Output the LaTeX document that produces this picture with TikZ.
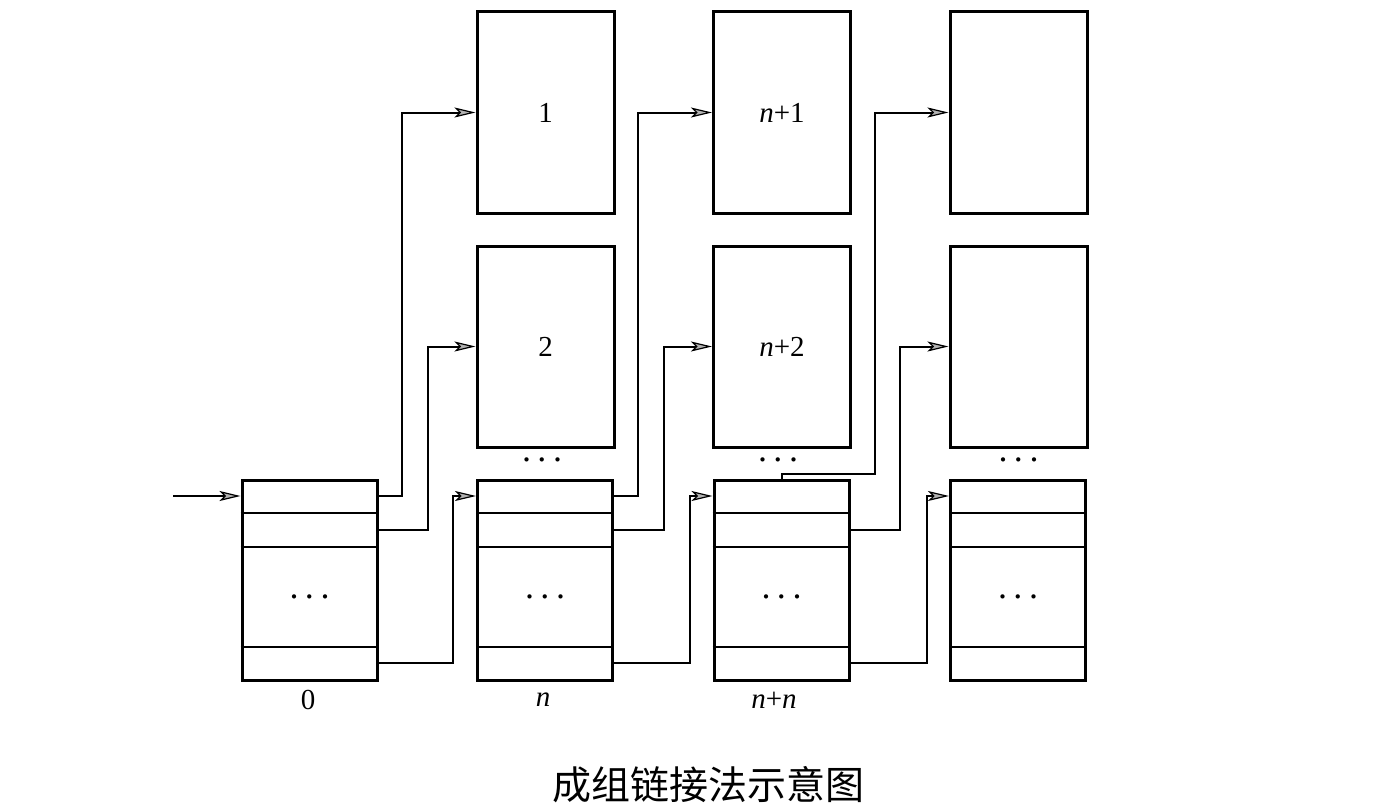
\documentclass[tikz,border=0pt]{standalone}
\usepackage{fontspec}
\setmainfont{Liberation Serif}
\newfontfamily\cjk{Noto Sans CJK SC}
\usetikzlibrary{arrows.meta,calc}
\newcommand\threedots{.\hspace{6.5pt}.\hspace{6.5pt}.}
\begin{document}
\begin{tikzpicture}[x=1pt,y=-1pt,
  box/.style={draw,line width=3pt,minimum width=137pt,minimum height=201pt,inner sep=0pt,font=\fontsize{29}{32}\selectfont},
  grp/.style={draw,line width=3pt,minimum width=135pt,minimum height=200pt,inner sep=0pt},
  rowline/.style={line width=2.4pt},
  link/.style={line width=2pt,-{Stealth[length=21pt,width=10pt,inset=5pt,fill=gray!60,line width=1.2pt]}},
  lbl/.style={font=\fontsize{29}{32}\selectfont},
  dotsn/.style={font=\fontsize{36}{38}\selectfont,anchor=base,inner sep=0pt}
]
\useasboundingbox (0,0) rectangle (1375,808);

% top boxes
\node[box] (t1) at (545.5,112.5) {1};
\node[box] (t2) at (545.5,346.5) {2};
\node[box] (tn1) at (782,112.5) {\textit{n}+1};
\node[box] (tn2) at (782,346.5) {\textit{n}+2};
\node[box] (tm1) at (1018.5,112.5) {};
\node[box] (tm2) at (1018.5,346.5) {};

% group blocks
\node[grp] (b0) at (309.5,580) {};
\node[grp] (bn) at (545,580.5) {};
\node[grp] (bnn) at (781.5,580.5) {};
\node[grp] (b3) at (1018,580.5) {};

\foreach \b in {b0,bn,bnn,b3}{
  \foreach \yy in {513,547,647}{
    \draw[rowline] (\b.west |- 0,\yy) -- (\b.east |- 0,\yy);
  }
  \node[dotsn] at (\b.center |- 0,598) {\threedots};
}

% dots between boxes and blocks
\node[dotsn] (d1) at (542,461) {\threedots};
\node[dotsn] (d2) at (778,461) {\threedots};
\node[dotsn] (d3) at (1018.5,461) {\threedots};

% labels
\node[lbl] (l0) at (308,700) {0};
\node[lbl] (ln) at (543,700) {\textit{n}};
\node[lbl] (lnn) at (774,700) {\textit{n}+\textit{n}};

% incoming
\coordinate (in) at (173,496);
\draw[link] (in) -- (b0.west |- in);

% links from block 0
\draw[link] (b0.east |- 0,496) -- (402,496) |- (t1.west);
\draw[link] (b0.east |- 0,530) -- (428,530) |- (t2.west);
\draw[link] (b0.east |- 0,663) -- (453,663) |- (bn.west |- 0,496);

% links from block n
\draw[link] (bn.east |- 0,496) -- (638,496) |- (tn1.west);
\draw[link] (bn.east |- 0,530) -- (664,530) |- (tn2.west);
\draw[link] (bn.east |- 0,663) -- (690,663) |- (bnn.west |- 0,496);

% links from block n+n
\draw[link] (bnn.north) |- (875,474) |- (tm1.west);
\draw[link] (bnn.east |- 0,530) -- (900,530) |- (tm2.west);
\draw[link] (bnn.east |- 0,663) -- (927,663) |- (b3.west |- 0,496);

% caption
\node[font=\cjk\fontsize{39}{42}\selectfont] (cap) at (708,785) {成组链接法示意图};
\end{tikzpicture}
\end{document}
